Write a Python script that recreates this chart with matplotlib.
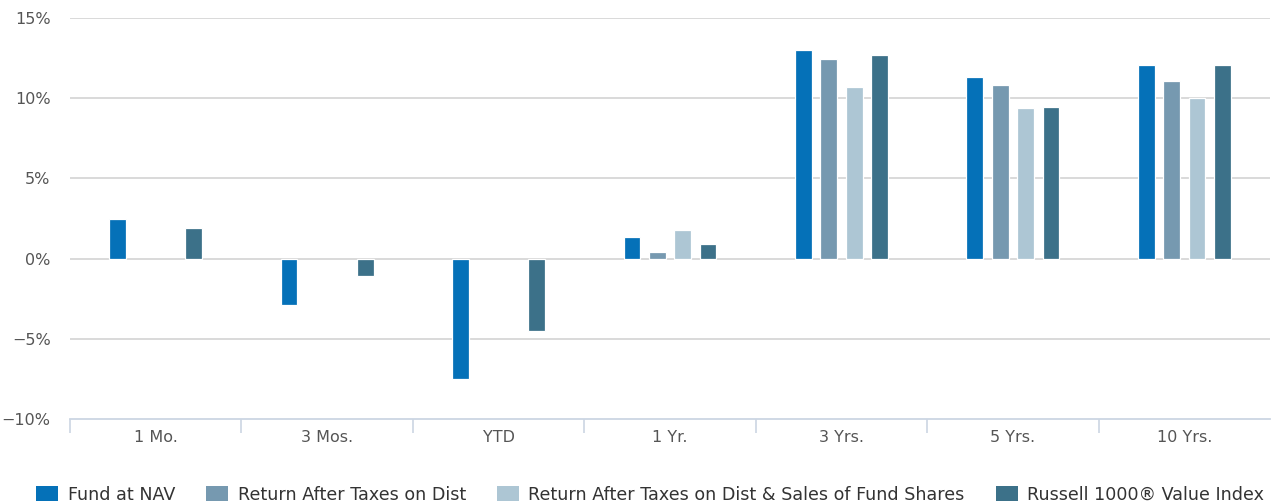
import numpy as np
import matplotlib.pyplot as plt
from matplotlib.patches import Patch

plt.rcParams["font.family"] = ["DejaVu Sans"]

# --- data (percent) ---
periods = ["1 Mo.", "3 Mos.", "YTD", "1 Yr.", "3 Yrs.", "5 Yrs.", "10 Yrs."]
fund_nav = [2.49, -2.88, -7.50, 1.33, 13.02, 11.32, 12.09]
after_tax_dist = [np.nan, np.nan, np.nan, 0.44, 12.44, 10.83, 11.08]
after_tax_sales = [np.nan, np.nan, np.nan, 1.81, 10.67, 9.37, 10.02]
russell_value = [1.91, -1.10, -4.50, 0.90, 12.69, 9.45, 12.09]

series_names = ["Fund at NAV", "Return After Taxes on Dist",
                "Return After Taxes on Dist & Sales of Fund Shares",
                "Russell 1000\u00ae Value Index"]
series_colors = ["#0571b8", "#7699b0", "#adc6d4", "#3c7189"]
y_ticks = [-10, -5, 0, 5, 10, 15]

fig = plt.figure(figsize=(12.71, 5.03), dpi=100)
ax = fig.add_axes([70 / 1271, 1 - 419 / 503, 1200 / 1271, 401 / 503])

x = np.arange(len(periods))
bar_w = 0.098
pitch = 0.148
all_series = [fund_nav, after_tax_dist, after_tax_sales, russell_value]
for i, (vals, col) in enumerate(zip(all_series, series_colors)):
    offs = (i - 1.5) * pitch
    ax.bar(x + offs, vals, width=bar_w, color=col, edgecolor="#ffffff",
           linewidth=0.9, zorder=3)

ax.set_xlim(-0.5, len(periods) - 0.5)
ax.set_ylim(-10, 15)
ax.set_yticks(y_ticks)
ax.set_yticklabels([f"{t}%".replace("-", "\u2212") for t in y_ticks])
for t in y_ticks[1:]:
    ax.axhline(t, color="#d3d3d3", linewidth=1.2, zorder=1)

for s in ["top", "right", "left"]:
    ax.spines[s].set_visible(False)
ax.spines["bottom"].set_color("#ccd6e3")
ax.spines["bottom"].set_linewidth(1.3)

# category labels between boundary ticks
ax.set_xticks(x)
ax.set_xticklabels(periods)
ax.set_xticks(np.arange(-0.5, len(periods) - 0.5, 1.0), minor=True)
ax.tick_params(axis="x", which="major", length=0, pad=8, labelsize=11.5,
               labelcolor="#555555")
ax.tick_params(axis="x", which="minor", length=10, width=1.2, color="#ccd6e3")
ax.tick_params(axis="y", length=0, pad=14, labelsize=11.5, labelcolor="#555555")

handles = [Patch(facecolor=c, edgecolor="none") for c in series_colors]
fig.legend(handles, series_names, loc="lower left", ncol=4, frameon=False,
           bbox_to_anchor=(29 / 1271, -0.015), fontsize=12.6, labelcolor="#333333",
           handlelength=1.25, handleheight=0.95, handletextpad=0.55,
           columnspacing=1.78, borderaxespad=0)

fig.savefig("out.png", dpi=100)
